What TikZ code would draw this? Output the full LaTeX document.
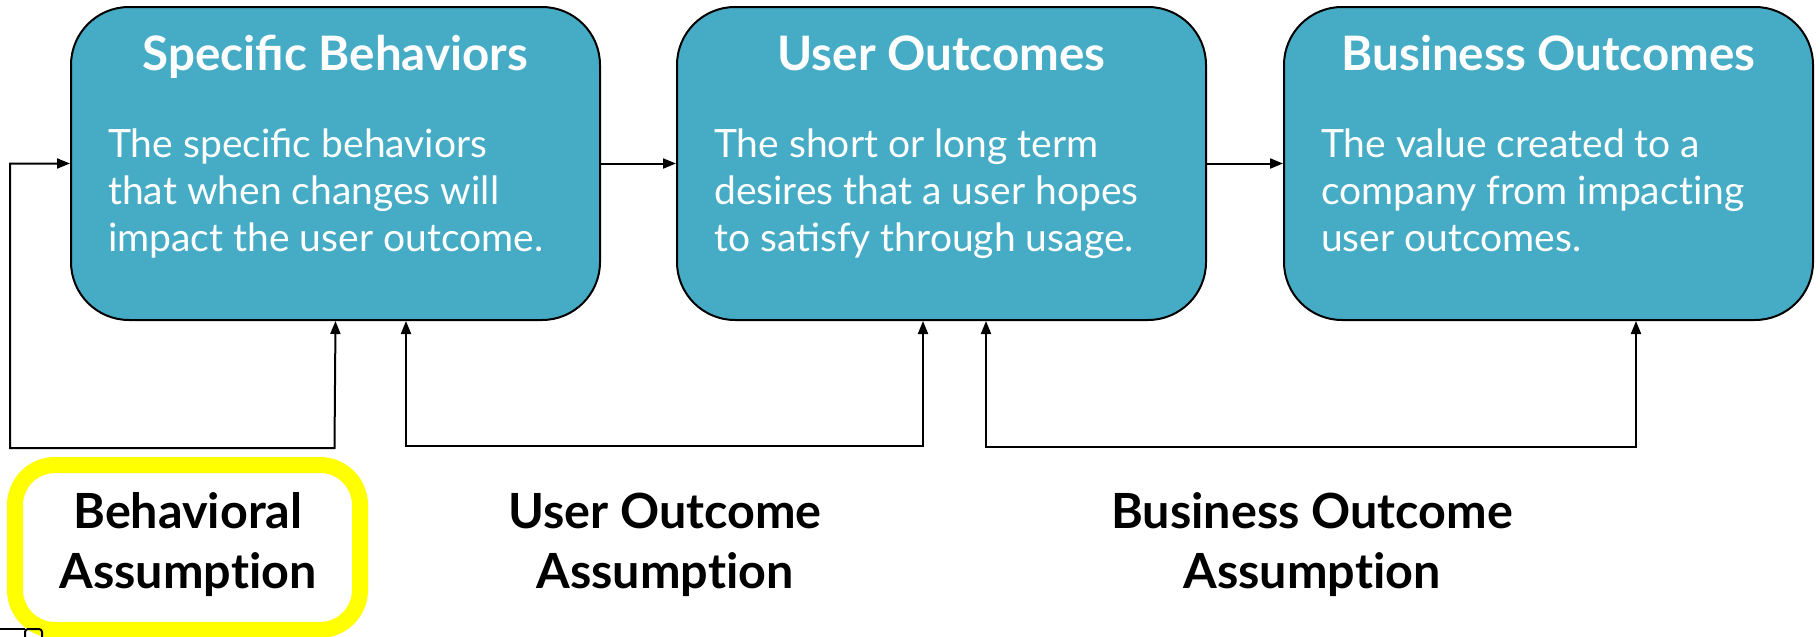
\documentclass[tikz,border=0pt]{standalone}
\usepackage{fontspec}
\setmainfont{Lato}
\usetikzlibrary{arrows.meta}
\definecolor{boxteal}{HTML}{46ACC6}
\definecolor{hiyellow}{HTML}{FFFF00}
% keeps "t" and "i" as separate glyphs
\newcommand{\nolig}{\kern0pt }
\begin{document}
\begin{tikzpicture}[x=1pt,y=-1pt,
  stagebox/.style={draw=black, line width=2pt, fill=boxteal, rounded corners=58pt,
    minimum width=529pt, minimum height=313pt, inner sep=0pt, anchor=north west},
  stagetitle/.style={text=white, font=\fontsize{47.5}{56}\selectfont\bfseries, anchor=base, inner sep=0pt},
  stagebody/.style={text=white, font=\fontsize{39}{47}\selectfont, align=left, anchor=base west, inner sep=0pt},
  assumption/.style={font=\fontsize{48.5}{60}\selectfont\bfseries, align=center, anchor=base, inner sep=0pt},
  link/.style={line width=2pt, line join=miter, -{Triangle[length=13pt,width=10pt]}},
  twoway/.style={line width=2pt, line join=miter, {Triangle[length=13pt,width=10pt]}-{Triangle[length=13pt,width=10pt]}}
]
\useasboundingbox (0,0) rectangle (1820,637);

% the three stages
\node[stagebox] (b1) at (70,6) {};
\node[stagebox] (b2) at (676,6) {};
\node[stagebox] (b3) at (1283,6) {};

\node[stagetitle] (t1) at ([yshift=-64pt]b1.north) {Specific Behaviors};
\node[stagetitle] (t2) at ([yshift=-64pt]b2.north) {User Outcomes};
\node[stagetitle] (t3) at ([yshift=-64pt]b3.north) {Business Outcomes};

% body text: the anchor sits on the last baseline
\node[stagebody] (d1) at ([xshift=38pt,yshift=-245pt]b1.north west)
  {The specific behaviors\\that when changes will\\impact the user outcome.};
\node[stagebody] (d2) at ([xshift=38pt,yshift=-245pt]b2.north west)
  {The short or long term\\desires that a user hopes\\to satisfy through usage.};
\node[stagebody] (d3) at ([xshift=38pt,yshift=-245pt]b3.north west)
  {The value created to a\\company from impact\nolig ing\\user outcomes.};

% forward flow
\draw[link] (b1.east) -- (b2.west);
\draw[link] (b2.east) -- (b3.west);

% assumption loops
\coordinate (f1) at (10,448);
\coordinate (f2) at (334.5,448);
\draw[twoway] (b1.west) -| (f1) -- (f2) -- (b1.south);

\coordinate (u1) at (406,446);
\coordinate (u2) at (923,446);
\draw[twoway] (b1.south -| u1) -- (u1) -- (u2) -- (b2.south -| u2);

\coordinate (v1) at (986,447);
\coordinate (v2) at (1636,447);
\draw[twoway] (b2.south -| v1) -- (v1) -- (v2) -- (b3.south -| v2);

% highlighted assumption
\draw[hiyellow, line width=16pt, fill=white, rounded corners=40pt] (15,465) rectangle (360,630);

\node[assumption] (a1) at (188,588) {Behavioral\\Assumpt\nolig ion};
\node[assumption] (a2) at (665,588) {User Outcome\\Assumpt\nolig ion};
\node[assumption] (a3) at (1312,588) {Business Outcome\\Assumpt\nolig ion};

% small marker at the lower left corner
\draw[line width=2pt] (0,629) -- (25,629);
\draw[line width=2pt, rounded corners=3pt] (25,642) -- (25,629) -- (42,629) -- (42,642);
\end{tikzpicture}
\end{document}
